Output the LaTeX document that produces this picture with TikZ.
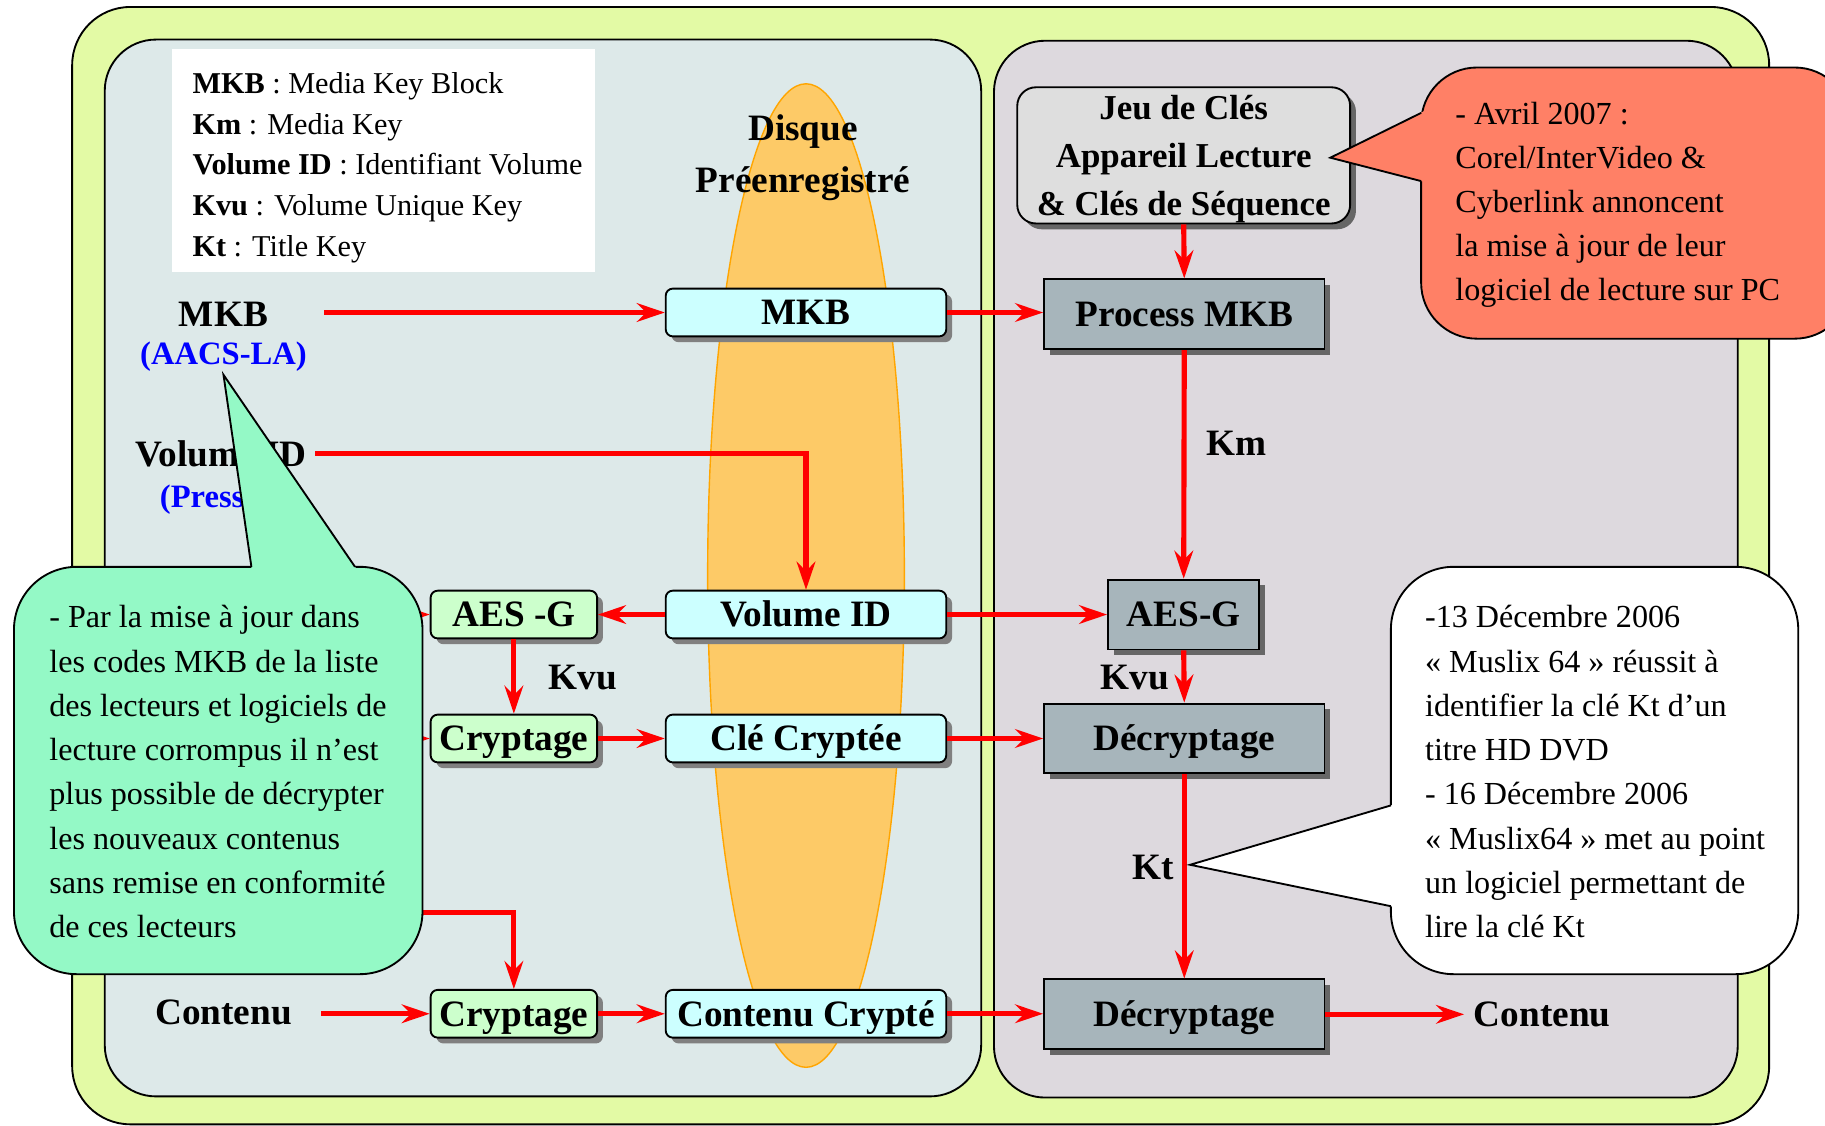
\documentclass[tikz,border=0pt]{standalone}
\usepackage{fontspec}
\setmainfont{Liberation Serif}
\usetikzlibrary{arrows.meta,shadows,shapes.geometric}

\definecolor{framegreen}{RGB}{227,250,165}
\definecolor{panelleft}{RGB}{221,233,233}
\definecolor{panelright}{RGB}{221,217,222}
\definecolor{diskfill}{RGB}{253,202,103}
\definecolor{diskline}{RGB}{255,165,0}
\definecolor{cyanbox}{RGB}{204,255,255}
\definecolor{greenbox}{RGB}{204,255,204}
\definecolor{graybox}{RGB}{167,181,187}
\definecolor{keybox}{RGB}{222,222,222}
\definecolor{salmon}{RGB}{255,128,102}
\definecolor{mint}{RGB}{148,249,198}
\definecolor{aacsblue}{RGB}{0,0,255}

\tikzset{
  boldtxt/.style={font=\fontsize{16}{19}\selectfont\bfseries, text height=14pt, text depth=3.4pt},
  lab/.style={boldtxt, inner sep=0pt},
  sublab/.style={font=\fontsize{14}{17}\selectfont\bfseries, text=aacsblue, inner sep=0pt,
    text height=12.3pt, text depth=3pt},
  softshadow/.style={drop shadow={shadow xshift=2.5pt, shadow yshift=-2.5pt, fill=black!50, opacity=1}},
  diskbox/.style={boldtxt, draw=black, line width=0.8pt, fill=cyanbox, rounded corners=3pt,
    minimum width=120.5pt, minimum height=20.5pt, inner sep=1pt, softshadow},
  encbox/.style={boldtxt, draw=black, line width=0.8pt, fill=greenbox, rounded corners=3pt,
    minimum width=71.5pt, minimum height=20.5pt, inner sep=1pt, softshadow},
  procbox/.style={boldtxt, draw=black, line width=0.8pt, fill=graybox,
    minimum width=120.5pt, minimum height=30pt, inner sep=1pt,
    drop shadow={shadow xshift=2.5pt, shadow yshift=-2.5pt, fill=black!60, opacity=1}},
  keysbox/.style={draw=black, line width=0.8pt,
    fill=keybox, rounded corners=8pt, minimum width=143pt, minimum height=58.5pt, inner sep=0pt,
    drop shadow={shadow xshift=2.5pt, shadow yshift=-2.5pt, fill=black!60, opacity=1}},
  keystxt/.style={font=\fontsize{15}{20.5}\selectfont\bfseries, align=center, inner sep=0pt},
  notetxt/.style={font=\fontsize{13.8}{19}\selectfont, align=left, inner sep=0pt, anchor=west},
  legendtxt/.style={font=\fontsize{13}{17.5}\selectfont, align=left, inner sep=0pt, anchor=west},
  arr/.style={draw=red, line width=2.2pt, -{Stealth[length=12pt, width=8pt, inset=4pt]}},
  outline/.style={draw=black, line width=0.8pt},
}

\begin{document}
\begin{tikzpicture}[x=0.5pt, y=-0.5pt]
\useasboundingbox (0,0) rectangle (1568,967);
\clip (0,0) rectangle (1568,967);

% outer frame and the two panels
\draw[outline, fill=framegreen, rounded corners=25pt] (62,6) rectangle (1520,966);
\draw[outline, fill=panelleft, rounded corners=22pt] (90,34) rectangle (843,942);
\draw[outline, fill=panelright, rounded corners=22pt] (854,35) rectangle (1493,943);

% legend
\node[fill=white, minimum width=181.5pt, minimum height=96pt, inner sep=0pt] (legend) at (329.5,138) {};
\node[legendtxt] (legendlines) at (165,144)
  {\textbf{MKB} : Media Key Block\\
   \textbf{Km} : Media Key\\
   \textbf{Volume ID} : Identifiant Volume\\
   \textbf{Kvu} : Volume Unique Key\\
   \textbf{Kt} : Title Key};

% pre-recorded disc
\node[ellipse, draw=diskline, line width=0.6pt, fill=diskfill, minimum width=84.5pt,
  minimum height=422.5pt, inner sep=0pt] (disc) at (692.5,494.5) {};
\node[align=center, inner sep=0pt, font=\fontsize{16}{22}\selectfont\bfseries] (disque) at (690,135.5) {Disque\\Préenregistré};

% data on the disc
\node[diskbox] (mkb) at (692.5,268.5) {MKB};
\node[diskbox] (vid) at (692.5,528) {Volume ID};
\node[diskbox] (cle) at (692.5,634.5) {Clé Cryptée};
\node[diskbox] (ccr) at (692.5,871) {Contenu Crypté};

% encryption side
\node[encbox] (aesl) at (441.5,528) {AES -G};
\node[encbox] (cry1) at (441.5,634.5) {Cryptage};
\node[encbox] (cry2) at (441.5,871) {Cryptage};

% player side
\node[keysbox] (jeu) at (1017,133.5) {};
\node[keystxt] (jeutxt) at (1017,136.5) {Jeu de Clés\\Appareil Lecture\\\& Clés de Séquence};
\node[procbox] (pmkb) at (1017.5,270) {Process MKB};
\node[procbox, minimum width=65pt] (aesr) at (1017,528) {AES-G};
\node[procbox] (dec1) at (1017.5,634.5) {Décryptage};
\node[procbox] (dec2) at (1017.5,871.5) {Décryptage};

% labels
\node[lab] (mkblab) at (192,270) {MKB};
\node[sublab] (aacs) at (192,304) {(AACS-LA)};
\node[lab] (vidlab) at (190,390) {Volume ID};
\node[sublab, anchor=west] (press) at (137,427) {(Presseur)};
\node[lab] (contin) at (192,870) {Contenu};
\node[lab] (contout) at (1325,871.5) {Contenu};
\node[lab] (kvul) at (501,582) {Kvu};
\node[lab] (km) at (1062,381) {Km};
\node[lab] (kvur) at (975,582) {Kvu};
\node[lab] (kt) at (991,745) {Kt};

% feeds hidden behind the note
\coordinate (hidA) at (300,528);
\coordinate (hidB) at (300,634.5);
\coordinate (hidC) at (300,784);
\draw[arr] (hidA) -- (aesl.west);
\draw[arr] (hidB) -- (cry1.west);
\draw[arr] (hidC) -| (cry2.north);

% flows
\draw[arr, shorten <=24pt] (mkblab.east |- mkb.west) -- (mkb.west);
\draw[arr, shorten <=3.5pt] (vidlab.east) -| (vid.north);
\draw[arr] (vid.west) -- (aesl.east);
\draw[arr] (aesl.south) -- (cry1.north);
\draw[arr] (cry1.east) -- (cle.west);
\draw[arr, shorten <=12.5pt] (contin.east |- cry2.west) -- (cry2.west);
\draw[arr] (cry2.east) -- (ccr.west);
\draw[arr] (mkb.east) -- (mkb.east -| pmkb.west);
\draw[arr] (jeu.south) -- (pmkb.north);
\draw[arr] (pmkb.south) -- (aesr.north);
\draw[arr] (vid.east) -- (aesr.west);
\draw[arr] (aesr.south) -- (dec1.north);
\draw[arr] (cle.east) -- (dec1.west);
\draw[arr] (dec1.south) -- (dec2.north);
\draw[arr] (ccr.east) -- (ccr.east -| dec2.west);
\draw[arr, shorten >=4pt] (dec2.east) -- (contout.west);

% note: revocation through MKB updates
\draw[outline, fill=mint, rounded corners=27pt] (12,487) rectangle (363,837);
\fill[mint] (216.3,489.5) -- (192,322) -- (306.7,489.5) -- cycle;
\draw[outline, line join=miter] (216,487) -- (192,322) -- (305,487);
\node[notetxt] (greentext) at (42,663)
  {- Par la mise à jour dans\\
   les codes MKB de la liste\\
   des lecteurs et logiciels de\\
   lecture corrompus il n’est\\
   plus possible de décrypter\\
   les nouveaux contenus\\
   sans remise en conformité\\
   de ces lecteurs};

% note: software updates
\draw[outline, fill=salmon, rounded corners=24pt] (1221,58) rectangle (1590,291);
\fill[salmon] (1223.5,95.5) -- (1143,135.5) -- (1223.5,156.2) -- cycle;
\draw[outline, line join=miter] (1221,97) -- (1143,135.5) -- (1221,155.6);
\node[notetxt] (redtext) at (1250,176)
  {- Avril 2007 :\\
   Corel/InterVideo \&\\
   Cyberlink annoncent\\
   la mise à jour de leur\\
   logiciel de lecture sur PC};

% note: Muslix64
\draw[outline, fill=white, rounded corners=27pt] (1195,487) rectangle (1545,837);
\fill[white] (1197.5,691.3) -- (1022.5,743) -- (1197.5,779.2) -- cycle;
\draw[outline, line join=miter] (1195,692) -- (1022.5,743) -- (1195,778.6);
\node[notetxt] (whitetext) at (1224,663)
  {-13 Décembre 2006\\
   « Muslix 64 » réussit à\\
   identifier la clé Kt d’un\\
   titre HD DVD\\
   - 16 Décembre 2006\\
   « Muslix64 » met au point\\
   un logiciel permettant de\\
   lire la clé Kt};
\end{tikzpicture}
\end{document}
